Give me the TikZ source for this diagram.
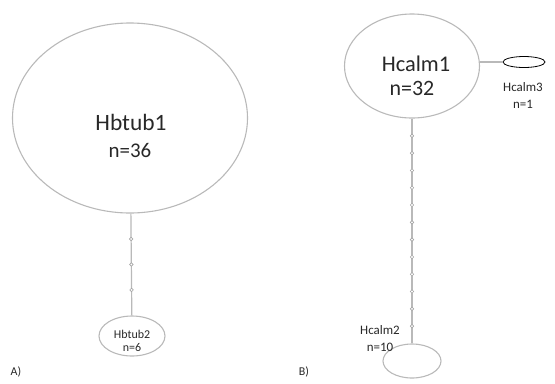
\documentclass[tikz,border=0pt]{standalone}
\usepackage{fontspec}
\setmainfont{Carlito}
\usetikzlibrary{shapes.geometric}
\definecolor{edgegray}{RGB}{185,185,185}
\definecolor{txt}{RGB}{40,40,40}
\tikzset{
  hap/.style={ellipse, draw=edgegray, line width=1.1bp, inner sep=0pt},
  link/.style={draw=edgegray, line width=1.2bp},
  mv/.style={circle, draw=edgegray!90!black, fill=white, line width=0.6bp, inner sep=0pt, minimum size=3.5bp},
  lbl/.style={text=txt, inner sep=0pt, align=center},
}
\begin{document}
\begin{tikzpicture}[x=1bp,y=-1bp]
\useasboundingbox (0,0) rectangle (555,383);
% Panel A
\node[hap, minimum width=235bp, minimum height=190bp] (h1) at (130,118) {};
\node[lbl, font=\fontsize{23.5}{25}\selectfont] (h1name) at (131,122) {Hbtub1};
\node[lbl, font=\fontsize{21}{23}\selectfont] (h1n) at (130,151) {n=36};
\node[hap, minimum width=66bp, minimum height=40bp] (h2) at (132,336) {};
\node[lbl, font=\fontsize{12}{13}\selectfont] (h2name) at (132,334) {Hbtub2};
\node[lbl, font=\fontsize{12}{13}\selectfont] (h2n) at (132,347) {n=6};
\draw[link] (h1) -- (h2)
  node[mv, pos=0.25] (a1) {}
  node[mv, pos=0.5] (a2) {}
  node[mv, pos=0.75] (a3) {};
\node[lbl, font=\fontsize{12}{13}\selectfont] (labA) at (16,372) {A)};
% Panel B
\node[hap, minimum width=135bp, minimum height=104bp] (c1) at (412,66) {};
\node[lbl, font=\fontsize{22.5}{24}\selectfont] (c1name) at (416,64) {Hcalm1};
\node[lbl, font=\fontsize{22}{24}\selectfont] (c1n) at (412,88) {n=32};
\node[hap, minimum width=58bp, minimum height=34bp] (c2) at (412,361) {};
\node[lbl, font=\fontsize{13}{14}\selectfont] (c2name) at (380,330) {Hcalm2};
\node[lbl, font=\fontsize{13}{14}\selectfont] (c2n) at (380,347) {n=10};
\node[ellipse, draw=black, line width=0.8bp, minimum width=42bp, minimum height=11bp, inner sep=0pt] (c3) at (524,62) {};
\node[lbl, font=\fontsize{13}{14}\selectfont] (c3name) at (523,87) {Hcalm3};
\node[lbl, font=\fontsize{13}{14}\selectfont] (c3n) at (523,104) {n=1};
\coordinate (c1e) at (c3.west -| c1.east);
\draw[link] (c1e) -- (c3.west);
\draw[link] (c1) -- (c2)
  \foreach \i in {1,...,12} { node[mv, pos=\i/13] (b\i) {} };
\node[lbl, font=\fontsize{12}{13}\selectfont] (labB) at (304,372) {B)};
\end{tikzpicture}
\end{document}
